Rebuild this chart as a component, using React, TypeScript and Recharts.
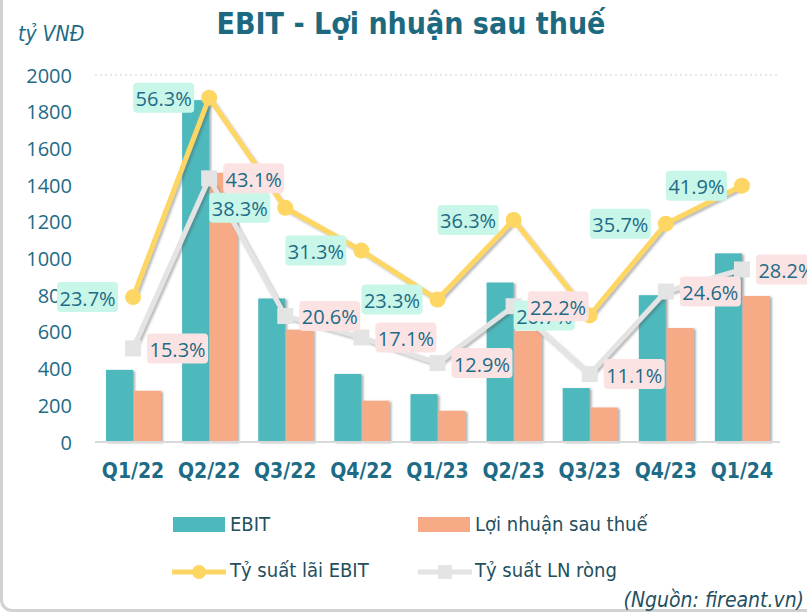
import React from "react";
import {
  ComposedChart,
  Bar,
  Line,
  XAxis,
  YAxis,
  CartesianGrid,
  LabelList,
} from "recharts";

const QUARTERS = ["Q1/22", "Q2/22", "Q3/22", "Q4/22", "Q1/23", "Q2/23", "Q3/23", "Q4/23", "Q1/24"];
const EBIT = [393, 1863, 782, 371, 261, 869, 294, 800, 1028];
const NET_PROFIT = [279, 1467, 612, 225, 170, 605, 188, 621, 796];
const EBIT_MARGIN = [23.7, 56.3, 38.3, 31.3, 23.3, 36.3, 20.7, 35.7, 41.9];
const NET_MARGIN = [15.3, 43.1, 20.6, 17.1, 12.9, 22.2, 11.1, 24.6, 28.2];
const LEFT_TICKS = [0, 200, 400, 600, 800, 1000, 1200, 1400, 1600, 1800, 2000];

const TEAL = "#4db9bd";
const SALMON = "#f6aa86";
const YELLOW = "#fdd663";
const GREY = "#e4e4e4";
const TEXT = "#1e6b86";
const NARROW = "'DejaVu Sans Condensed', 'Liberation Sans Narrow', 'Open Sans', sans-serif";

const data = QUARTERS.map((q, i) => ({
  quarter: q,
  ebit: EBIT[i],
  net: NET_PROFIT[i],
  ebitMargin: EBIT_MARGIN[i],
  netMargin: NET_MARGIN[i],
}));

const ShadowBar = (props: any) => {
  const { x, y, width, height, fill } = props;
  if (!height || height <= 0) return null;
  return <rect x={x} y={y} width={width} height={height} fill={fill} filter="url(#barShadow)" />;
};

const Square = (props: any) => {
  const { cx, cy, index } = props;
  return <rect key={`sq-${index}`} x={cx - 8} y={cy - 8} width={16} height={16} fill={GREY} />;
};

// boxed percentage labels: EBIT margin sits left of the point, net margin right
const makeLabel = (side: "left" | "right", bg: string) => (props: any) => {
  const { x, y, value } = props;
  const bx = side === "left" ? x - 76 : x + 14;
  return (
    <g>
      <rect x={bx} y={y - 15} width={61} height={30} rx={4} fill={bg} />
      <text
        x={bx + 30.5}
        y={y + 1}
        textAnchor="middle"
        dominantBaseline="central"
        fill={TEXT}
        fontSize={20}
        fontFamily="'Open Sans', sans-serif"
      >
        {Number(value).toFixed(1)}%
      </text>
    </g>
  );
};

const YTick = (props: any) => {
  const { x, y, payload } = props;
  return (
    <text x={x} y={y} textAnchor="end" dominantBaseline="central" fill={TEXT} fontSize={20} fontFamily="'Open Sans', sans-serif">
      {payload.value}
    </text>
  );
};

const XTick = (props: any) => {
  const { x, y, payload } = props;
  return (
    <text x={x} y={y + 21} textAnchor="middle" dominantBaseline="central" fill={TEXT} fontSize={21} fontWeight="bold" fontFamily={NARROW}>
      {payload.value}
    </text>
  );
};

const legendText: React.CSSProperties = {
  position: "absolute",
  fontSize: 20,
  color: "#244f5e",
  fontFamily: NARROW,
  lineHeight: "24px",
};

export default function App() {
  return (
    <div
      style={{
        position: "absolute",
        left: 0,
        top: 0,
        width: 807,
        height: 615,
        overflow: "hidden",
        background: "#fff",
      }}
    >
      <style>{`
        .ratio-line .recharts-line-curve, .ratio-line .recharts-line-dots { filter: url(#lineShadow); }
      `}</style>
      <svg width={0} height={0} style={{ position: "absolute" }}>
        <defs>
          <filter id="barShadow" x="-20%" y="-5%" width="140%" height="110%">
            <feDropShadow dx={2} dy={1} stdDeviation={1} floodColor="#444" floodOpacity={0.45} />
          </filter>
          <filter id="lineShadow" x="-10%" y="-10%" width="120%" height="120%">
            <feDropShadow dx={2} dy={2} stdDeviation={1.2} floodColor="#555" floodOpacity={0.4} />
          </filter>
        </defs>
      </svg>
      <div
        style={{
          position: "absolute",
          left: 0,
          top: -20,
          width: 830,
          height: 632,
          border: "3px solid #d2d2d2",
          borderRadius: 12,
          boxSizing: "border-box",
        }}
      />
      <ComposedChart
        width={807}
        height={615}
        data={data}
        margin={{ top: 75, right: 27, bottom: 143, left: 0 }}
        barSize={27}
        barGap={1}
      >
        <CartesianGrid vertical={false} stroke="#cfcfcf" strokeDasharray="2 3" />
        <XAxis
          dataKey="quarter"
          height={30}
          axisLine={{ stroke: "#d9d9d9", strokeWidth: 2 }}
          tickLine={false}
          tick={<XTick />}
          interval={0}
        />
        <YAxis
          yAxisId="left"
          width={95}
          domain={[0, 2000]}
          ticks={LEFT_TICKS}
          axisLine={false}
          tickLine={false}
          tickMargin={17}
          tick={<YTick />}
        />
        <YAxis yAxisId="right" orientation="right" hide domain={[0, 60]} />
        <Bar yAxisId="left" dataKey="ebit" fill={TEAL} shape={<ShadowBar />} isAnimationActive={false} />
        <Bar yAxisId="left" dataKey="net" fill={SALMON} shape={<ShadowBar />} isAnimationActive={false} />
        <Line
          yAxisId="right"
          dataKey="ebitMargin"
          className="ratio-line"
          stroke={YELLOW}
          strokeWidth={5}
          dot={{ r: 8, fill: YELLOW, stroke: "none" }}
          activeDot={false}
          isAnimationActive={false}
        >
          <LabelList dataKey="ebitMargin" content={makeLabel("left", "#c8f6e9")} />
        </Line>
        <Line
          yAxisId="right"
          dataKey="netMargin"
          className="ratio-line"
          stroke={GREY}
          strokeWidth={5}
          dot={<Square />}
          activeDot={false}
          isAnimationActive={false}
        >
          <LabelList dataKey="netMargin" content={makeLabel("right", "#fbe3e3")} />
        </Line>
      </ComposedChart>

      <div
        style={{
          position: "absolute",
          left: 0,
          width: 822,
          top: 4,
          textAlign: "center",
          fontSize: 30,
          fontWeight: "bold",
          color: "#1d6a80",
          fontFamily: NARROW,
          lineHeight: "40px",
        }}
      >
        EBIT - Lợi nhuận sau thuế
      </div>
      <div
        style={{
          position: "absolute",
          left: 18,
          top: 21,
          fontSize: 21,
          fontStyle: "italic",
          color: TEXT,
          fontFamily: NARROW,
          lineHeight: "26px",
        }}
      >
        tỷ VNĐ
      </div>

      <div style={{ position: "absolute", left: 173, top: 517, width: 52, height: 15, background: TEAL }} />
      <div style={{ ...legendText, left: 230, top: 512 }}>EBIT</div>
      <div style={{ position: "absolute", left: 418, top: 517, width: 52, height: 15, background: SALMON }} />
      <div style={{ ...legendText, left: 475, top: 512 }}>Lợi nhuận sau thuế</div>

      <svg style={{ position: "absolute", left: 170, top: 560 }} width={60} height={24}>
        <line x1={2} y1={12} x2={56} y2={12} stroke={YELLOW} strokeWidth={5} />
        <circle cx={29} cy={12} r={7} fill={YELLOW} />
      </svg>
      <div style={{ ...legendText, left: 230, top: 558 }}>Tỷ suất lãi EBIT</div>
      <svg style={{ position: "absolute", left: 416, top: 560 }} width={60} height={24}>
        <line x1={2} y1={12} x2={56} y2={12} stroke={GREY} strokeWidth={5} />
        <rect x={22} y={5} width={14} height={14} fill={GREY} />
      </svg>
      <div style={{ ...legendText, left: 475, top: 558 }}>Tỷ suất LN ròng</div>

      <div
        style={{
          position: "absolute",
          right: 3,
          top: 587,
          fontSize: 21,
          fontStyle: "italic",
          color: "#244f5e",
          fontFamily: NARROW,
          lineHeight: "26px",
        }}
      >
        (Nguồn: fireant.vn)
      </div>
    </div>
  );
}
